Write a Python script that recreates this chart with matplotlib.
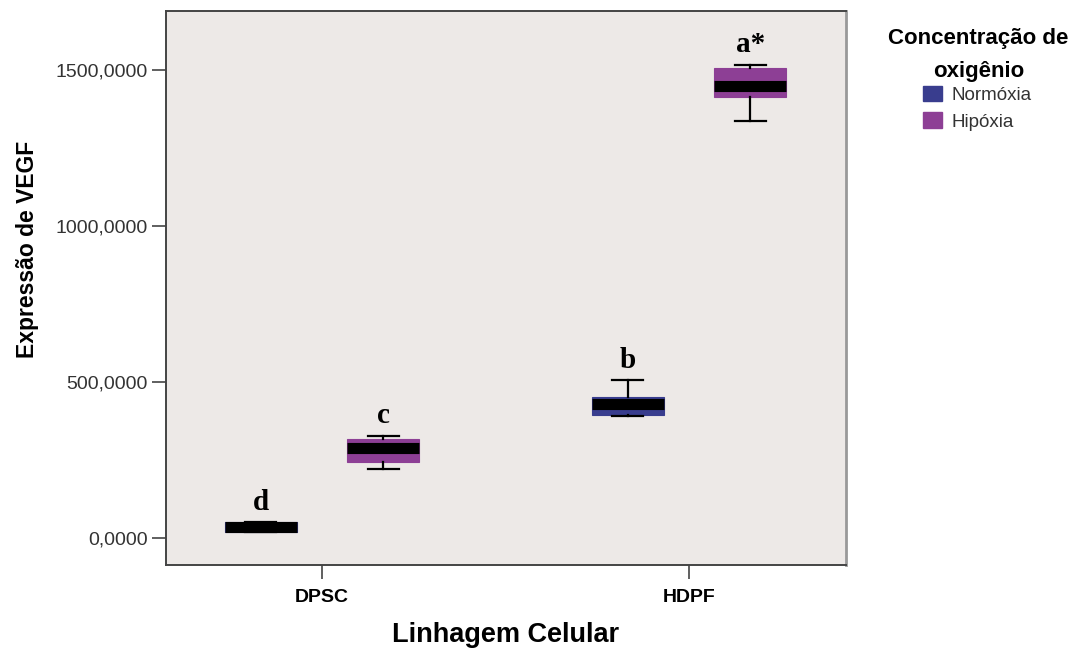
import matplotlib.pyplot as plt
from matplotlib.patches import Patch
from matplotlib.ticker import FuncFormatter

# VEGF expression summary per cell line and oxygen condition
linhagens = ['DPSC', 'HDPF']
condicoes = ['Normóxia', 'Hipóxia']
cores = ['#393D8E', '#8D3F95']

# five-number summaries: [whislo, q1, med, q3, whishi] for (Normóxia, Hipóxia)
dpsc_stats = [[18, 18, 35, 51, 51], [221, 244, 288, 317, 327]]
hdpf_stats = [[391, 394, 429, 452, 506], [1337, 1413, 1449, 1506, 1516]]
letras = [['d', 'c'], ['b', 'a*']]

plt.rcParams['font.family'] = ['Liberation Sans', 'DejaVu Sans']

fig = plt.figure(figsize=(10.89, 6.5), dpi=100)
ax = fig.add_axes([0.1524, 0.1308, 0.6245, 0.8523])
ax.set_facecolor('#EDE9E7')

offset = 0.167
width = 0.196
for i, stats in enumerate([dpsc_stats, hdpf_stats]):
    for j, s in enumerate(stats):
        pos = i + (j * 2 - 1) * offset
        ax.bxp([dict(whislo=s[0], q1=s[1], med=s[2], q3=s[3], whishi=s[4], fliers=[])],
               positions=[pos], widths=width, patch_artist=True, showfliers=False,
               boxprops=dict(facecolor=cores[j], edgecolor=cores[j], linewidth=0.8),
               medianprops=dict(color='black', linewidth=8, solid_capstyle='butt'),
               whiskerprops=dict(color='black', linewidth=1.6),
               capprops=dict(color='black', linewidth=1.6),
               capwidths=width * 0.43)
        ax.annotate(letras[i][j], (pos, s[4]), xytext=(0, 9), textcoords='offset points',
                    ha='center', va='baseline', fontsize=21, fontweight='bold',
                    family='Liberation Serif')

ax.set_xlim(-0.425, 1.428)
ax.set_ylim(-86.5, 1689)
ax.set_xticks([0, 1])
ax.set_xticklabels(linhagens, fontsize=14, fontweight='bold')
ax.set_yticks([0, 500, 1000, 1500])
ax.yaxis.set_major_formatter(FuncFormatter(lambda v, p: f'{v:.4f}'.replace('.', ',')))
ax.tick_params(axis='y', labelsize=14, length=10, width=1.2, pad=3,
               color='#444444', labelcolor='#333333')
ax.tick_params(axis='x', length=10, width=1.2, color='#444444', pad=7)

for side in ['left', 'bottom', 'top', 'right']:
    ax.spines[side].set_color('#444444')
    ax.spines[side].set_linewidth(1.4)
ax.spines['right'].set_color('#999999')
ax.spines['right'].set_linewidth(2)

ax.set_xlabel('Linhagem Celular', fontsize=19.5, fontweight='bold', labelpad=12)
ax.set_ylabel('Expressão de VEGF', fontsize=16.5, fontweight='bold')
ax.yaxis.set_label_coords(-0.187, 0.57)

fig.text(0.8985, 0.916, 'Concentração de\noxigênio', ha='center', va='center',
         fontsize=16, fontweight='bold', linespacing=1.75)
handles = [Patch(facecolor=c, edgecolor=c) for c in cores]
fig.legend(handles, condicoes, loc='upper left', bbox_to_anchor=(0.8325, 0.894),
           frameon=False, fontsize=13.5, handlelength=1.0, handleheight=0.9,
           handletextpad=0.5, labelspacing=0.45, labelcolor='#333333')

fig.savefig('out.png', dpi=100)
